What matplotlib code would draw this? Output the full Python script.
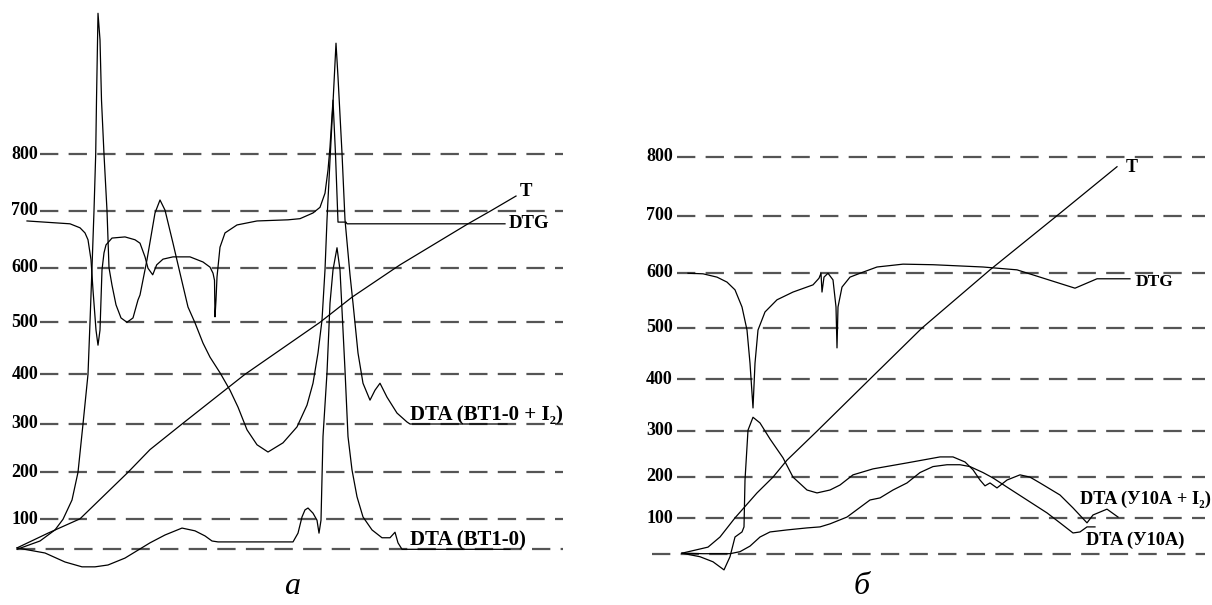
import numpy as np
import matplotlib
matplotlib.use("Agg")
import matplotlib.pyplot as plt

plt.rcParams["lines.scale_dashes"] = False
plt.rcParams["font.family"] = ["Liberation Serif", "DejaVu Serif"]

# ---------------- data ----------------
tick_values = [100, 200, 300, 400, 500, 600, 700, 800]
base_a = 35
base_b = 30

# panel a (BT1-0)
a_T_t = [17, 48, 80, 128, 150, 182, 245, 320, 352, 400, 468, 491, 516]
a_T_v = [38, 70, 101, 200, 247, 300, 400, 500, 546, 605, 677, 700, 726]

a_dta_i2_t = [17, 40, 55, 63, 72, 78, 83, 88, 90, 92, 94, 95.7, 96.5, 98, 100, 101.5, 104, 107, 109, 112,
              116, 121, 127, 133, 138, 140, 147, 155, 160, 165, 173, 180, 188, 195, 203, 210, 220, 230, 238, 247,
              257, 268, 283, 297, 307, 313, 318, 322, 325, 327, 330, 333, 336, 338, 342, 345, 350, 353, 358, 363,
              370, 375, 380, 387, 397, 407, 410, 507]
a_dta_i2_v = [35, 53, 77, 100, 141, 200, 300, 400, 500, 600, 700, 800, 896, 1050, 1003, 896, 800, 700, 600, 568,
              532, 508, 500, 508, 541, 550, 614, 696, 719, 701, 643, 590, 528, 499, 460, 433, 403, 368, 334, 288,
              257, 242, 261, 294, 338, 382, 441, 504, 596, 684, 790, 891, 997, 937, 802, 684, 587, 535, 441, 382,
              348, 368, 382, 354, 322, 304, 300, 300]

a_dtg_t = [27, 70, 80, 85, 88, 91, 93, 96, 98, 100, 101, 102, 104, 106, 112, 125, 135, 140, 145, 148,
           152.7, 156.7, 163, 173, 190, 203, 210, 213, 214.5, 215, 216, 217, 220, 225, 237, 257, 288, 300, 313, 320,
           325, 328, 330, 333, 335.5, 338, 346, 347, 505]
a_dtg_v = [682, 677, 670, 661, 649, 614, 559, 485, 456, 485, 541, 596, 626, 640, 652, 654, 649, 643, 619, 599,
           587, 605, 615, 619, 619, 610, 601, 590, 577, 510, 541, 583, 636, 661, 675, 682, 684, 686, 696, 706,
           731, 772, 813, 896, 800, 680, 680, 677, 677]

a_dta_t = [17, 45, 65, 82, 95, 108, 125, 150, 165, 182, 195, 205, 212, 218, 293, 298, 302, 305, 308, 313,
           317, 319, 321, 323, 327, 330, 333, 337, 340, 345, 348, 352, 357, 363, 372, 382, 390, 395, 398, 402, 510]
a_dta_v = [38, 27, 7.5, -3, -3, 1, 16, 49, 66, 81, 75, 64, 53, 51, 51, 70, 105, 120, 124, 113,
           98, 70, 98, 274, 403, 535, 596, 635, 596, 408, 274, 205, 148, 105, 77, 60, 60, 72, 49, 35, 35]

# panel b (У10А)
b_T_t = [682, 708, 720, 735, 757, 773, 787, 817, 870, 922, 990, 1057, 1117]
b_T_v = [31, 43, 63, 101, 161, 199, 236, 299, 400, 500, 605, 700, 783]

b_dtg_t = [688, 703, 717, 727, 735, 742, 747, 750, 753, 755, 758, 765, 777, 793, 813, 819, 821, 822, 824, 828,
           833, 836, 837, 838, 842, 850, 860, 877, 903, 933, 983, 1017, 1040, 1075, 1097, 1130]
b_dtg_v = [599, 598, 592, 583, 569, 538, 496, 431, 344, 431, 496, 529, 551, 565, 578, 590, 599, 565, 592, 599,
           587, 538, 461, 538, 574, 592, 599, 610, 615, 614, 610, 605, 592, 572, 589, 589]

b_dta_i2_t = [682, 700, 713, 724, 730, 735, 742, 744, 745, 748, 753, 760, 770, 783, 793, 807, 817, 830, 840, 853,
              873, 907, 940, 953, 965, 973, 980, 985, 990, 997, 1007, 1020, 1030, 1040, 1060, 1073, 1087, 1093,
              1107, 1118]
b_dta_i2_v = [31, 24, 14, -2, 24, 63, 73, 83, 192, 301, 326, 315, 282, 241, 199, 168, 161, 168, 180, 204,
              217, 230, 243, 243, 232, 215, 192, 178, 185, 173, 192, 204, 199, 185, 156, 125, 91, 108, 122, 103]

b_dta_t = [682, 703, 730, 740, 750, 760, 770, 787, 807, 820, 830, 847, 870, 880, 893, 907, 920, 933, 947, 960,
           970, 983, 993, 1007, 1027, 1047, 1060, 1073, 1080, 1087, 1095]
b_dta_v = [31, 30, 30, 34, 45, 63, 73, 77, 81, 83, 89, 103, 144, 149, 168, 185, 209, 222, 226, 226,
           222, 209, 197, 175, 144, 113, 91, 71, 73, 83, 83]

labels_a = ["T", "DTG", "DTA (ВТ1-0 + I₂)", "DTA (ВТ1-0)"]
labels_b = ["T", "DTG", "DTA (У10А + I₂)", "DTA (У10А)"]
panel_letters = ["а", "б"]

# ---------------- layout ----------------
W, H = 1212, 605
fig = plt.figure(figsize=(W / 100, H / 100), dpi=100)
fig.patch.set_facecolor("white")

# vertical position (pixel row) of each gridline: the scale of the picture is not uniform
grid_rows_a = [549.3, 519.3, 472.3, 424.0, 374.3, 322.3, 267.7, 210.7, 154.3]
grid_rows_b = [553.7, 518.3, 476.7, 430.7, 379.0, 328.0, 272.7, 215.7, 156.7]


def make_scale(base, rows):
    vals = np.array([base] + tick_values, float)
    rows = np.array(rows, float)
    lo_slope = (rows[0] - rows[1]) / (vals[1] - vals[0])
    hi_slope = (rows[-2] - rows[-1]) / (vals[-1] - vals[-2])
    v_ext = np.concatenate([[-400], vals, [1500]])
    r_ext = np.concatenate([[rows[0] + (vals[0] + 400) * lo_slope], rows,
                            [rows[-1] - (1500 - vals[-1]) * hi_slope]])

    def fwd(v):
        return -np.interp(v, v_ext, r_ext)

    def inv(p):
        return np.interp(-np.asarray(p), r_ext[::-1], v_ext[::-1])

    return fwd, inv


grid_color = "#555555"
curve_kw = dict(color="black", lw=0.9, solid_joinstyle="round")


def panel(rect, xlim, base, rows, x_lab, x0, x0_base, x1, curves):
    ax = fig.add_axes(rect)
    fwd, inv = make_scale(base, rows)
    ax.set_yscale("function", functions=(fwd, inv))
    ax.set_xlim(*xlim)
    ax.set_ylim(float(inv(-H)), float(inv(0)))
    ax.axis("off")
    for v in [base] + tick_values:
        xs = x0_base if v == base else x0
        ax.plot([xs, x1], [v, v], color=grid_color, lw=1.6, dashes=(13.2, 7.4), zorder=1)
    for v in tick_values:
        ax.text(x_lab, v, str(v), ha="right", va="center", fontsize=13, fontweight="bold")
    for t, v in curves:
        ax.plot(t, v, zorder=3, **curve_kw)
    return ax


ax_a = panel([0, 0, 0.5, 1], (0, 606), base_a, grid_rows_a, 38, 40, 17, 563,
             [(a_T_t, a_T_v), (a_dta_i2_t, a_dta_i2_v), (a_dtg_t, a_dtg_v), (a_dta_t, a_dta_v)])
ax_b = panel([0.5, 0, 0.5, 1], (606, 1212), base_b, grid_rows_b, 673, 677, 652, 1205,
             [(b_T_t, b_T_v), (b_dta_i2_t, b_dta_i2_v), (b_dtg_t, b_dtg_v), (b_dta_t, b_dta_v)])


def ftext(x, y, s, size):
    fig.text(x / W, 1 - y / H, s, ha="left", va="center", fontsize=size, fontweight="bold")


pos_a = [(520, 191), (509, 224), (410, 415), (410, 540)]
size_a = [13.5, 13.5, 15, 15]
pos_b = [(1126, 167), (1136, 282), (1080, 499), (1086, 540)]
size_b = [13, 12.5, 13.2, 13.2]
for (x, y), s, fs in zip(pos_a, labels_a, size_a):
    ftext(x, y, s, fs)
for (x, y), s, fs in zip(pos_b, labels_b, size_b):
    ftext(x, y, s, fs)

fig.text(292 / W, 1 - 586 / H, panel_letters[0], ha="center", va="center", fontsize=23, style="italic")
fig.text(862 / W, 1 - 586 / H, panel_letters[1], ha="center", va="center", fontsize=23, style="italic")

fig.savefig("out.png", dpi=100, facecolor="white")
